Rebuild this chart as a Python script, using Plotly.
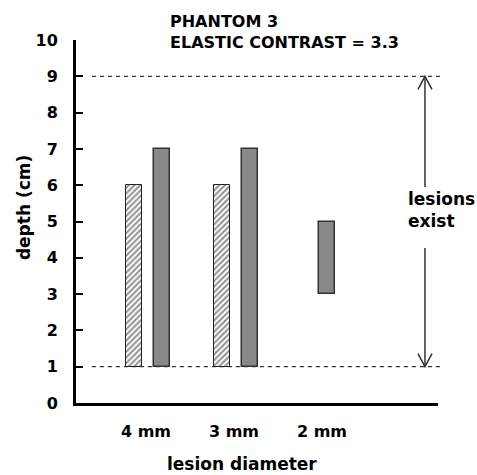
import plotly.graph_objects as go

# ---- data ----
categories = ["4 mm", "3 mm", "2 mm"]
hatched_bottom = [1, 1, None]
hatched_top = [6, 6, None]
gray_bottom = [1, 1, 3]
gray_top = [7, 7, 5]
y_ticks = list(range(0, 11))
lesion_range = [1, 9]          # depths where lesions exist
title_lines = ["PHANTOM 3", "ELASTIC CONTRAST = 3.3"]

FONT = "DejaVu Sans"
cat_pos = [i + 1 for i in range(len(categories))]

fig = go.Figure()

hx, hy, hb = [], [], []
for p, b, t in zip(cat_pos, hatched_bottom, hatched_top):
    if b is not None:
        hx.append(p); hy.append(t - b); hb.append(b)
fig.add_trace(go.Bar(
    x=hx, y=hy, base=hb, offset=-0.225, width=0.18,
    marker=dict(color="white", line=dict(color="#222222", width=1),
                pattern=dict(shape="/", fgcolor="#222222", bgcolor="white", size=4, solidity=0.5)),
    showlegend=False, hoverinfo="skip"))

gx, gy, gb = [], [], []
for p, b, t in zip(cat_pos, gray_bottom, gray_top):
    gx.append(p); gy.append(t - b); gb.append(b)
fig.add_trace(go.Bar(
    x=gx, y=gy, base=gb, offset=[0.093, 0.09, -0.03], width=0.18,
    marker=dict(color="#888888", line=dict(color="#333333", width=1.5)),
    showlegend=False, hoverinfo="skip"))

# dashed limit lines
for yv in lesion_range:
    fig.add_shape(type="line", xref="paper", yref="y", x0=0.044, x1=1.014, y0=yv, y1=yv,
                  line=dict(color="black", width=1, dash="4px,4px"), layer="below")

# double arrow (with gap for text)
ax = 0.964
fig.add_shape(type="line", xref="paper", yref="y", x0=ax, x1=ax, y0=lesion_range[1], y1=5.95,
              line=dict(color="#333333", width=1.5))
fig.add_shape(type="line", xref="paper", yref="y", x0=ax, x1=ax, y0=4.27, y1=lesion_range[0],
              line=dict(color="#333333", width=1.5))
# open V arrowheads
fig.add_shape(type="path", xref="paper", yref="y", xsizemode="pixel", ysizemode="pixel",
              xanchor=ax, yanchor=lesion_range[1], path="M -7,-13 L 0,0 L 7,-13",
              line=dict(color="#333333", width=1.5))
fig.add_shape(type="path", xref="paper", yref="y", xsizemode="pixel", ysizemode="pixel",
              xanchor=ax, yanchor=lesion_range[0], path="M -7,13 L 0,0 L 7,13",
              line=dict(color="#333333", width=1.5))

fig.add_annotation(text="lesions<br>exist", xref="paper", yref="paper", x=0.9116, y=0.531,
                   xanchor="left", yanchor="middle", showarrow=False, align="left",
                   font=dict(family=FONT, size=17, color="black", weight="bold"))

fig.add_annotation(text="<br>".join(title_lines), xref="paper", yref="paper", x=0.254, y=1.022,
                   xanchor="left", yanchor="middle", showarrow=False, align="left",
                   font=dict(family=FONT, size=16, color="black", weight="bold"))

fig.add_annotation(text="depth (cm)", xref="paper", yref="paper", x=-0.1436, y=0.537,
                   textangle=-90, showarrow=False, xanchor="center", yanchor="middle",
                   font=dict(family=FONT, size=17, color="black", weight="bold"))
fig.add_annotation(text="lesion diameter", xref="paper", yref="paper", x=0.458, y=-0.168,
                   showarrow=False, xanchor="center", yanchor="middle",
                   font=dict(family=FONT, size=17, color="black", weight="bold"))

fig.update_layout(
    width=477, height=475, autosize=False,
    margin=dict(l=76, r=39, t=40, b=72),
    paper_bgcolor="white", plot_bgcolor="white",
    barmode="overlay", bargap=0,
    xaxis=dict(range=[0.2045, 4.318], showline=True, linecolor="black", linewidth=3,
               showgrid=False, zeroline=False, ticks="", tickvals=cat_pos, ticktext=categories,
               ticklabelstandoff=12,
               tickfont=dict(family=FONT, size=16, color="black", weight="bold")),
    yaxis=dict(range=[0, 10], showline=True, linecolor="black", linewidth=3,
               showgrid=False, zeroline=False, ticks="inside", ticklen=7, tickwidth=1.5,
               tickcolor="black", tickvals=y_ticks, ticklabelstandoff=12,
               tickfont=dict(family=FONT, size=16, color="black", weight="bold")),
)

fig.write_html("out.html", config={"displayModeBar": False},
               post_script="document.body.style.margin='0px';document.body.style.overflow='hidden';")
